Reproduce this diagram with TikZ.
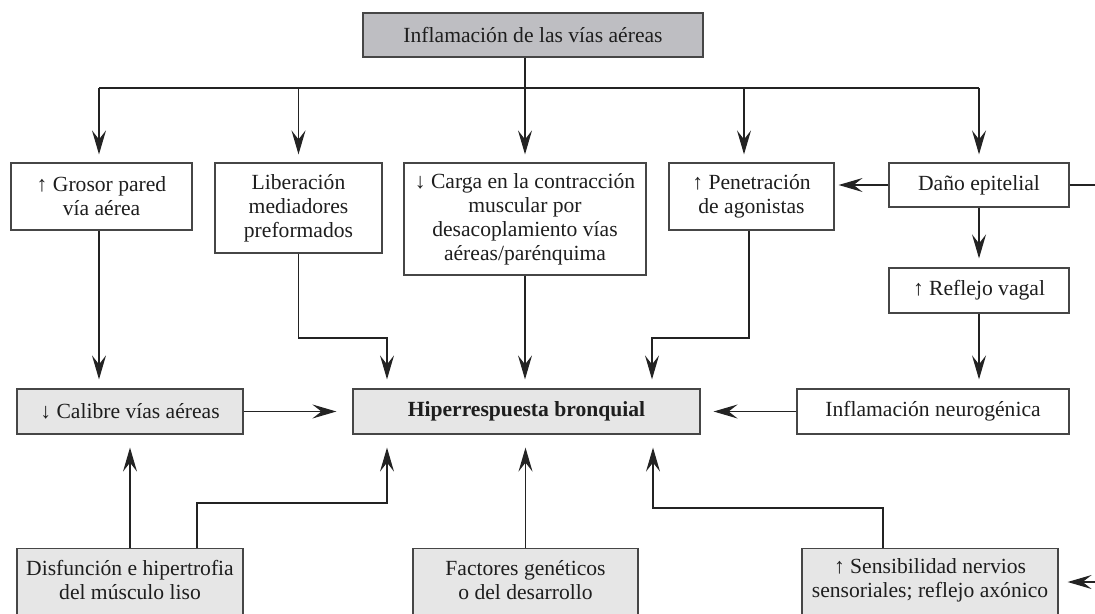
\documentclass[tikz,border=0pt]{standalone}
\usepackage{fontspec}
\setmainfont{Liberation Serif}
\usetikzlibrary{arrows.meta}
\definecolor{topfill}{RGB}{190,190,194}
\definecolor{lightfill}{RGB}{230,230,230}
\definecolor{edgegray}{RGB}{70,70,70}
\definecolor{linegray}{RGB}{35,35,35}
\definecolor{textgray}{RGB}{30,30,30}
\begin{document}
\begin{tikzpicture}[x=0.5pt,y=-0.5pt,
  box/.style={draw=edgegray,line width=0.6pt,fill=white,rectangle,inner sep=0pt,align=center,
    text=textgray,font=\fontsize{10.8}{12}\selectfont},
  darkbox/.style={box,fill=topfill},
  lightbox/.style={box,fill=lightfill},
  txt/.style={inner sep=0pt,align=center,text=textgray,font=\fontsize{10.8}{12}\selectfont},
  conn/.style={draw=linegray,line width=0.6pt},
  arr/.style={conn,-{Stealth[length=12pt,width=7pt,inset=4.5pt]}}
]
\clip (0,0) rectangle (1095,614);
\useasboundingbox (0,0) rectangle (1095,614);

% top row
\node[darkbox,minimum width=170pt,minimum height=22pt] (top) at (533,35) {Inflamación de las vías aéreas};

% row 1
\node[box,minimum width=90.5pt,minimum height=33.5pt] (grosor) at (101.5,196.5) {↑ Grosor pared\\vía aérea};
\node[box,minimum width=83.5pt,minimum height=45pt] (lib) at (298.5,208) {Liberación\\mediadores\\preformados};
\node[box,minimum width=121pt,minimum height=56pt] (carga) at (525,219) {↓ Carga en la contracción\\muscular por\\desacoplamiento vías\\aéreas/parénquima};
\node[box,minimum width=82.5pt,minimum height=33.5pt] (pen) at (751.5,196.5) {↑ Penetración\\de agonistas};
\node[box,minimum width=90pt,minimum height=22pt] (dano) at (979,185) {Daño epitelial};
\node[box,minimum width=90pt,minimum height=22.5pt] (vagal) at (979,290.5) {↑ Reflejo vagal};

% row 2
\node[lightbox,minimum width=113pt,minimum height=22.5pt] (calibre) at (130,411.5) {↓ Calibre vías aéreas};
\node[lightbox,minimum width=173.5pt,minimum height=22.5pt] (hiper) at (526.5,411.5) {\textbf{Hiperrespuesta bronquial}};
\node[box,minimum width=136pt,minimum height=22.5pt] (neuro) at (933,411.5) {Inflamación neurogénica};

% row 3 (cut by the lower edge)
\node[lightbox,anchor=north,minimum width=113pt,minimum height=50pt] (disf) at (130,548) {};
\node[txt] (disft) at (130,580) {Disfunción e hipertrofia\\del músculo liso};
\node[lightbox,anchor=north,minimum width=112.5pt,minimum height=50pt] (fact) at (525.5,548) {};
\node[txt] (factt) at (525.5,580) {Factores genéticos\\o del desarrollo};
\node[lightbox,anchor=north,minimum width=128pt,minimum height=50pt] (sens) at (930,548) {};
\node[txt] (senst) at (930,580) {↑ Sensibilidad nervios\\sensoriales; reflejo axónico};

% helper coordinates
\coordinate (busL) at (99,88);
\coordinate (penx) at (744,88);
\coordinate (j1) at (387,338);
\coordinate (j2) at (652,338);
\coordinate (j3) at (387,503);
\coordinate (j4) at (653,508);
\coordinate (disfx) at (197,548);
\coordinate (sensx) at (883,548);
\coordinate (dEdge) at (1095,185);
\coordinate (sEdge) at (1095,582);

% bus from the top box
\draw[conn] (top.south -| carga.north) -- (carga.north |- busL);
\draw[conn] (busL) -- (dano.north |- busL);
\draw[arr,shorten >=4pt] (busL) -- (busL |- grosor.north);
\draw[arr,shorten >=4pt] (lib.north |- busL) -- (lib.north);
\draw[arr,shorten >=4pt] (carga.north |- busL) -- (carga.north);
\draw[arr,shorten >=4pt] (penx) -- (penx |- pen.north);
\draw[arr,shorten >=4pt] (dano.north |- busL) -- (dano.north);

% right part
\draw[arr,shorten >=2pt] (dano.west) -- (dano.west -| pen.east);
\draw[conn] (dano.east) -- (dEdge);
\draw[arr,shorten >=4.5pt] (dano.south) -- (vagal.north);
\draw[arr,shorten >=4.5pt] (vagal.south) -- (vagal.south |- neuro.north);

% into the hyper-responsiveness box from above
\draw[arr,shorten >=4.5pt] (busL |- grosor.south) -- (busL |- calibre.north);
\draw[arr,shorten >=4.5pt] (lib.south) |- (j1) -- (j1 |- hiper.north);
\draw[arr,shorten >=4.5pt] (carga.south) -- (carga.south |- hiper.north);
\draw[arr,shorten >=4.5pt] (pen.south -| 749,0) |- (j2) -- (j2 |- hiper.north);

% sideways
\draw[arr,shorten >=8pt] (calibre.east) -- (hiper.west);
\draw[arr,shorten >=6.5pt] (neuro.west) -- (hiper.east);

% from below
\draw[arr,shorten >=6.5pt] (disf.north) -- (calibre.south);
\draw[arr,shorten >=6.5pt] (disfx) |- (j3) -- (j3 |- hiper.south);
\draw[arr,shorten >=6.5pt] (fact.north) -- (fact.north |- hiper.south);
\draw[arr,shorten >=6.5pt] (sensx) |- (j4) -- (j4 |- hiper.south);
\draw[arr,shorten >=4.5pt] (sEdge) -- (sEdge -| sens.east);
\end{tikzpicture}
\end{document}
